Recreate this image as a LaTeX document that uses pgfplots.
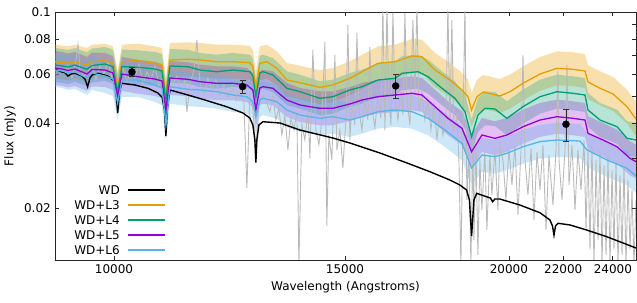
\documentclass[border=0pt]{standalone}
\usepackage{fontspec}
\setmainfont{DejaVu Sans}
\usepackage{pgfplots}
\usepgfplotslibrary{fillbetween}
\pgfplotsset{compat=1.18}
\usepackage{pgfplotstable}

\definecolor{cLthree}{HTML}{E69F00}
\definecolor{cLfour}{HTML}{009E73}
\definecolor{cLfive}{HTML}{9400D3}
\definecolor{cLsix}{HTML}{56B4E9}
\definecolor{cgray}{HTML}{BABABA}

\pgfplotstableread{
lam f lo hi
9017 0.06649 0.05785 0.07646
9129 0.06605 0.05746 0.07596
9225 0.06562 0.05709 0.07546
9339 0.06649 0.05785 0.07646
9537 0.06471 0.05630 0.07442
9622 0.06649 0.05785 0.07646
9843 0.06704 0.05832 0.07710
9982 0.06562 0.05709 0.07546
10065 0.05357 0.04661 0.06161
10141 0.06649 0.05785 0.07646
10430 0.06704 0.05832 0.07710
10746 0.06562 0.05709 0.07546
10879 0.06471 0.05630 0.07442
10954 0.05058 0.04400 0.05817
11032 0.06743 0.05866 0.07754
11386 0.06781 0.05899 0.07798
11628 0.06743 0.05866 0.07754
11981 0.06649 0.05785 0.07646
12323 0.06649 0.05785 0.07646
12693 0.06595 0.05738 0.07584
12760 0.06382 0.05552 0.07339
12828 0.05345 0.04650 0.06147
12918 0.06562 0.05709 0.07546
13078 0.06649 0.05785 0.07646
13310 0.06298 0.05479 0.07243
13545 0.05721 0.04977 0.06579
13858 0.05596 0.04869 0.06435
14103 0.05491 0.04777 0.06315
14353 0.05388 0.04688 0.06196
14686 0.05491 0.04777 0.06315
15129 0.05802 0.05048 0.06672
15455 0.06125 0.05329 0.07044
15894 0.06562 0.05709 0.07546
16376 0.06649 0.05785 0.07646
16872 0.06967 0.06061 0.08012
17171 0.06927 0.06026 0.07966
17567 0.06211 0.05404 0.07143
18032 0.05721 0.04977 0.06579
18418 0.05271 0.04586 0.06062
18613 0.04988 0.04340 0.05736
18733 0.04472 0.03891 0.05143
18910 0.04988 0.04340 0.05736
19121 0.05185 0.04511 0.05963
19414 0.05100 0.04437 0.05865
19687 0.05017 0.04365 0.05770
20035 0.05197 0.04521 0.05977
20498 0.05568 0.04844 0.06403
21119 0.06010 0.05229 0.06912
21758 0.06298 0.05479 0.07243
22379 0.06247 0.05435 0.07184
22855 0.06160 0.05359 0.07084
22975 0.05629 0.04897 0.06473
23465 0.05345 0.04650 0.06147
24007 0.05100 0.04437 0.05865
24604 0.04595 0.03998 0.05284
24995 0.04153 0.03613 0.04776
}\tLthree

\pgfplotstableread{
lam f lo hi
9017 0.06471 0.05630 0.07442
9129 0.06419 0.05585 0.07382
9225 0.06366 0.05538 0.07321
9339 0.06471 0.05630 0.07442
9537 0.06247 0.05435 0.07184
9622 0.06445 0.05607 0.07412
9843 0.06525 0.05677 0.07504
9982 0.06382 0.05552 0.07339
10065 0.05185 0.04511 0.05963
10141 0.06392 0.05561 0.07351
10430 0.06351 0.05525 0.07304
10746 0.06262 0.05448 0.07201
10879 0.06160 0.05359 0.07084
10954 0.04855 0.04224 0.05583
11032 0.06419 0.05585 0.07382
11386 0.06382 0.05552 0.07339
11628 0.06211 0.05404 0.07143
11981 0.06125 0.05329 0.07044
12323 0.06211 0.05404 0.07143
12693 0.06125 0.05329 0.07044
12760 0.05912 0.05143 0.06799
12828 0.04988 0.04340 0.05736
12918 0.06060 0.05272 0.06969
12987 0.06125 0.05329 0.07044
13216 0.05961 0.05186 0.06855
13545 0.05345 0.04650 0.06147
13858 0.05197 0.04521 0.05977
14103 0.05058 0.04400 0.05817
14353 0.04923 0.04283 0.05661
14686 0.04988 0.04340 0.05736
15129 0.05271 0.04586 0.06062
15455 0.05415 0.04711 0.06227
15894 0.05721 0.04977 0.06579
16376 0.05802 0.05048 0.06672
16578 0.06045 0.05259 0.06952
17051 0.06125 0.05329 0.07044
17353 0.05878 0.05114 0.06760
17783 0.05345 0.04650 0.06147
18193 0.04923 0.04283 0.05661
18515 0.04410 0.03837 0.05072
18733 0.03592 0.03125 0.04131
18943 0.04292 0.03734 0.04936
19177 0.04535 0.03945 0.05215
19515 0.04509 0.03923 0.05185
19930 0.04177 0.03634 0.04804
20498 0.04595 0.03998 0.05284
21119 0.04988 0.04340 0.05736
21758 0.05197 0.04521 0.05977
22379 0.05129 0.04462 0.05898
22855 0.05058 0.04400 0.05817
22975 0.04472 0.03891 0.05143
23465 0.04119 0.03584 0.04737
24176 0.03899 0.03392 0.04484
24604 0.03545 0.03084 0.04077
24995 0.03496 0.03042 0.04020
}\tLfour

\pgfplotstableread{
lam f lo hi
9017 0.06314 0.05493 0.07261
9129 0.06262 0.05448 0.07201
9225 0.06185 0.05381 0.07113
9339 0.06262 0.05448 0.07201
9537 0.06010 0.05229 0.06912
9622 0.06236 0.05425 0.07171
9843 0.06211 0.05404 0.07143
9982 0.06060 0.05272 0.06969
10065 0.04976 0.04329 0.05722
10141 0.06010 0.05229 0.06912
10430 0.05878 0.05114 0.06760
10746 0.05768 0.05018 0.06633
10879 0.05675 0.04937 0.06526
10954 0.04472 0.03891 0.05143
11032 0.05816 0.05060 0.06688
11386 0.05754 0.05006 0.06617
11628 0.05642 0.04909 0.06488
11981 0.05568 0.04844 0.06403
12323 0.05568 0.04844 0.06403
12627 0.05491 0.04777 0.06315
12760 0.05271 0.04586 0.06062
12828 0.04472 0.03891 0.05143
12918 0.05357 0.04661 0.06161
12987 0.05415 0.04711 0.06227
13216 0.05345 0.04650 0.06147
13545 0.04855 0.04224 0.05583
13858 0.04660 0.04054 0.05359
14103 0.04595 0.03998 0.05284
14353 0.04535 0.03945 0.05215
14686 0.04535 0.03945 0.05215
15129 0.04698 0.04087 0.05403
15455 0.04855 0.04224 0.05583
15894 0.04988 0.04340 0.05736
16376 0.05058 0.04400 0.05817
16872 0.05129 0.04462 0.05898
17171 0.05058 0.04400 0.05817
17567 0.04595 0.03998 0.05284
17971 0.04177 0.03634 0.04804
18418 0.03848 0.03348 0.04425
18733 0.03175 0.02762 0.03651
19077 0.03642 0.03169 0.04188
19515 0.03545 0.03084 0.04077
19930 0.03642 0.03169 0.04188
20498 0.03899 0.03392 0.04484
21119 0.04119 0.03584 0.04737
21758 0.04233 0.03683 0.04868
22379 0.04177 0.03634 0.04804
22855 0.04119 0.03584 0.04737
22975 0.03693 0.03213 0.04247
23590 0.03496 0.03042 0.04020
24176 0.03308 0.02878 0.03804
24733 0.03008 0.02617 0.03459
24995 0.02925 0.02545 0.03364
}\tLfive

\pgfplotstableread{
lam f lo hi
9017 0.06211 0.05404 0.07143
9129 0.06160 0.05359 0.07084
9225 0.06060 0.05272 0.06969
9339 0.06110 0.05316 0.07027
9537 0.05816 0.05060 0.06688
9622 0.06060 0.05272 0.06969
9843 0.05912 0.05143 0.06799
9982 0.05768 0.05018 0.06633
10065 0.04737 0.04121 0.05448
10141 0.05721 0.04977 0.06579
10430 0.05721 0.04977 0.06579
10746 0.05491 0.04777 0.06315
10879 0.05357 0.04661 0.06161
10954 0.03954 0.03440 0.04547
11032 0.05415 0.04711 0.06227
11386 0.05301 0.04612 0.06096
11628 0.05271 0.04586 0.06062
11981 0.05197 0.04521 0.05977
12323 0.05058 0.04400 0.05817
12627 0.04988 0.04340 0.05736
12760 0.04786 0.04164 0.05504
12828 0.04233 0.03683 0.04868
12918 0.04855 0.04224 0.05583
12987 0.04923 0.04283 0.05661
13310 0.04786 0.04164 0.05504
13545 0.04472 0.03891 0.05143
13858 0.04292 0.03734 0.04936
14353 0.04177 0.03634 0.04804
14686 0.04233 0.03683 0.04868
15129 0.04119 0.03584 0.04737
15455 0.04233 0.03683 0.04868
15894 0.04410 0.03837 0.05072
16376 0.04472 0.03891 0.05143
16872 0.04410 0.03837 0.05072
17353 0.04177 0.03634 0.04804
17877 0.03795 0.03302 0.04364
18418 0.03402 0.02960 0.03912
18733 0.02777 0.02416 0.03194
19077 0.03090 0.02688 0.03554
19515 0.03048 0.02652 0.03505
19930 0.03134 0.02727 0.03604
20498 0.03308 0.02878 0.03804
21119 0.03449 0.03001 0.03966
21758 0.03496 0.03042 0.04020
22655 0.03467 0.03016 0.03987
22935 0.03220 0.02801 0.03703
23756 0.02966 0.02580 0.03411
24604 0.02771 0.02411 0.03187
24995 0.02601 0.02263 0.02991
}\tLsix

\pgfplotstableread{
lam f
9017 0.06246
9129 0.06110
9177 0.06060
9225 0.05912
9274 0.06010
9339 0.06045
9454 0.05912
9504 0.05768
9548 0.05415
9588 0.05816
9622 0.05961
9723 0.06045
9895 0.05912
10000 0.05675
10035 0.05271
10065 0.04363
10097 0.05185
10136 0.05568
10375 0.05491
10615 0.05345
10802 0.05142
10879 0.04976
10927 0.04472
10954 0.03612
10983 0.04545
11032 0.05271
11386 0.05058
11731 0.04855
12186 0.04594
12540 0.04363
12693 0.04187
12760 0.03954
12805 0.03496
12828 0.02902
12850 0.03496
12896 0.03954
12987 0.04062
13380 0.04019
13858 0.03795
14686 0.03553
15129 0.03410
15947 0.03142
16722 0.02895
17410 0.02694
18032 0.02517
18352 0.02415
18569 0.02318
18661 0.02136
18733 0.01589
18809 0.02136
18898 0.02256
19232 0.02194
19361 0.02171
19436 0.02106
19515 0.02153
19687 0.02153
20390 0.02049
21119 0.01924
21493 0.01812
21588 0.01725
21645 0.01602
21702 0.01725
21797 0.01764
22261 0.01740
22923 0.01669
23746 0.01580
24995 0.01440
}\tWD

\pgfplotstableread{
lam f
9096 0.0631
9160 0.0601
9225 0.0642
9290 0.0582
9356 0.0674
9389 0.0769
9422 0.0621
9488 0.0591
9555 0.0611
9622 0.0652
9689 0.0572
9757 0.0642
9826 0.0601
9895 0.0663
9965 0.0582
10035 0.0519
10088 0.0596
10159 0.0631
10231 0.0563
10303 0.0621
10375 0.0582
10449 0.0652
10522 0.0554
10596 0.0611
10671 0.0572
10746 0.0642
10821 0.0545
10898 0.0582
10954 0.0440
11013 0.0601
11090 0.0554
11168 0.0591
11247 0.0527
11326 0.0572
11366 0.0440
11426 0.0554
11506 0.0621
11567 0.0795
11628 0.0563
11710 0.0510
11792 0.0582
11875 0.0527
11958 0.0572
12043 0.0502
12128 0.0554
12213 0.0494
12299 0.0545
12386 0.0485
12473 0.0536
12561 0.0477
12627 0.0236
12693 0.0502
12760 0.0447
12828 0.0322
12895 0.0466
12963 0.0506
13055 0.0485
13147 0.0440
13216 0.0502
13286 0.0412
13356 0.0454
13427 0.0364
13498 0.0429
13569 0.0322
13641 0.0418
13713 0.0380
13785 0.0440
13834 0.0125
13907 0.0395
13980 0.0350
14054 0.0447
14103 0.0301
14177 0.0732
14252 0.0380
14328 0.0336
14404 0.0412
14480 0.0782
14530 0.0173
14581 0.0364
14658 0.0297
14736 0.0703
14788 0.0322
14866 0.0380
14945 0.0278
15024 0.0412
15076 0.0899
15129 0.0350
15182 0.0466
15262 0.0395
15316 0.0842
15370 0.0447
15451 0.0380
15533 0.0485
15615 0.0412
15669 0.0750
15724 0.0454
15807 0.0386
15891 0.0506
15975 0.0418
16031 0.105
16088 0.0380
16145 0.105
16202 0.0485
16259 0.0395
16316 0.0992
16374 0.0502
16460 0.0412
16546 0.0527
16605 0.0429
16664 0.0992
16722 0.0485
16810 0.0395
16899 0.0936
16958 0.0506
17018 0.105
17077 0.0447
17167 0.0519
17258 0.0412
17349 0.0485
17441 0.0380
17533 0.0466
17626 0.0350
17719 0.0447
17813 0.0364
17907 0.0429
17970 0.105
18032 0.0395
18095 0.0936
18159 0.0380
18255 0.0429
18320 0.0297
18385 0.0125
18450 0.0380
18515 0.105
18580 0.0214
18646 0.0322
18711 0.0125
18776 0.0350
18809 0.0154
18875 0.0336
18942 0.0136
19007 0.0297
19074 0.0197
19175 0.0322
19243 0.0167
19344 0.0309
19412 0.0223
19514 0.0322
19617 0.0197
19687 0.0336
19791 0.0297
19895 0.0214
20000 0.0322
20106 0.0242
20212 0.0336
20319 0.0189
20426 0.0322
20498 0.0703
20570 0.0297
20678 0.0223
20788 0.0327
20898 0.0181
21008 0.0317
21119 0.0232
21230 0.0336
21343 0.0167
21455 0.0309
21606 0.0205
21720 0.0322
21797 0.0621
21835 0.0297
21950 0.0214
22066 0.0322
22144 0.0647
22222 0.0242
22339 0.0336
22457 0.0197
22575 0.0322
22695 0.0232
22815 0.0350
22895 0.0167
22975 0.0322
23056 0.0142
23137 0.0336
23218 0.0125
23301 0.0297
23383 0.0154
23465 0.0322
23548 0.0125
23630 0.0285
23714 0.0136
23797 0.0309
23880 0.0125
23964 0.0273
24048 0.0142
24133 0.0297
24218 0.0125
24303 0.0262
24389 0.0136
24474 0.0285
24560 0.0125
24646 0.0252
24733 0.0142
24820 0.0232
24907 0.0125
24995 0.0214
}\tObs

\pgfplotstableread{
lam f err
10321 0.0611 0.0022
12533 0.0542 0.0030
16396 0.0545 0.0052
22106 0.0398 0.0052
}\tPhot

\begin{document}
\fontsize{12}{14}\selectfont
\begin{tikzpicture}
\begin{axis}[
  scale only axis, width=581pt, height=248pt,
  xmode=log, ymode=log,
  xmin=9017, xmax=24995, ymin=0.01305, ymax=0.1,
  xtick={10000,15000,20000,22000,24000},
  xticklabels={10000,15000,20000,22000,24000},
  ytick={0.02,0.04,0.06,0.08,0.1},
  yticklabels={0.02,0.04,0.06,0.08,0.1},
  xminorticks=false, yminorticks=false,
  ytick pos=left,
  tick align=inside,
  major tick length=4pt,
  axis line style={black!85, line width=0.9pt},
  tick style={black!85, line width=0.8pt},
  ticklabel style={font=\fontsize{12}{14}\selectfont},
  label style={font=\fontsize{12}{14}\selectfont},
  xlabel={Wavelength (Angstroms)},
  ylabel={Flux (mJy)},
]
\coordinate (sw) at (rel axis cs:0,0);
\coordinate (ne) at (rel axis cs:1,1);

\addplot[cgray, line width=0.9pt] table[x=lam,y=f]{\tObs};

\addplot[name path=L3hi, draw=none] table[x=lam,y=hi]{\tLthree};
\addplot[name path=L3lo, draw=none] table[x=lam,y=lo]{\tLthree};
\addplot[fill=cLthree, fill opacity=0.32, draw=none] fill between[of=L3hi and L3lo];

\addplot[name path=L4hi, draw=none] table[x=lam,y=hi]{\tLfour};
\addplot[name path=L4lo, draw=none] table[x=lam,y=lo]{\tLfour};
\addplot[fill=cLfour, fill opacity=0.28, draw=none] fill between[of=L4hi and L4lo];

\addplot[name path=L5hi, draw=none] table[x=lam,y=hi]{\tLfive};
\addplot[name path=L5lo, draw=none] table[x=lam,y=lo]{\tLfive};
\addplot[fill=cLfive, fill opacity=0.25, draw=none] fill between[of=L5hi and L5lo];

\addplot[name path=L6hi, draw=none] table[x=lam,y=hi]{\tLsix};
\addplot[name path=L6lo, draw=none] table[x=lam,y=lo]{\tLsix};
\addplot[fill=cLsix, fill opacity=0.3, draw=none] fill between[of=L6hi and L6lo];

\addplot[black, line width=1.4pt, no markers] table[x=lam,y=f]{\tWD};
\addplot[cLthree, line width=1.3pt, no markers] table[x=lam,y=f]{\tLthree};
\addplot[cLfour, line width=1.3pt, no markers] table[x=lam,y=f]{\tLfour};
\addplot[cLfive, line width=1.3pt, no markers] table[x=lam,y=f]{\tLfive};
\addplot[cLsix, line width=1.3pt, no markers] table[x=lam,y=f]{\tLsix};

\addplot[black, only marks, mark=*, mark size=3.5pt,
  error bars/.cd, y dir=both, y explicit,
  error bar style={black!80, line width=0.8pt},
  error mark options={black!80, rotate=90, mark size=3pt, line width=0.8pt}]
  table[x=lam, y=f, y error=err]{\tPhot};
\end{axis}
\begin{axis}[
  scale only axis, width=581pt, height=248pt,
  xmode=log, ymode=log,
  xmin=9017, xmax=24995, ymin=0.01305, ymax=0.1,
  axis x line=none, axis y line*=right,
  ytick={0.02,0.03,0.04,0.05,0.06,0.07,0.08,0.09,0.1},
  yticklabels={},
  yminorticks=false,
  tick align=inside,
  major tick length=4pt,
  axis line style={black!85, line width=0.9pt},
  tick style={black!85, line width=0.8pt},
]
\end{axis}
% legend
\foreach \txt/\col/\dy in {WD/black/70, WD+L3/cLthree/55, WD+L4/cLfour/40, WD+L5/cLfive/25, WD+L6/cLsix/10}{
  \node[anchor=east, inner sep=0pt, font=\fontsize{12}{14}\selectfont] at ([shift={(65pt,\dy pt)}]sw) {\txt};
  \draw[\col, line width=1.4pt] ([shift={(73pt,\dy pt)}]sw) -- ([shift={(110pt,\dy pt)}]sw);
}
\pgfresetboundingbox
\path[use as bounding box] ([shift={(-55pt,-43pt)}]sw) rectangle ([shift={(1pt,12pt)}]ne);
\end{tikzpicture}
\end{document}
